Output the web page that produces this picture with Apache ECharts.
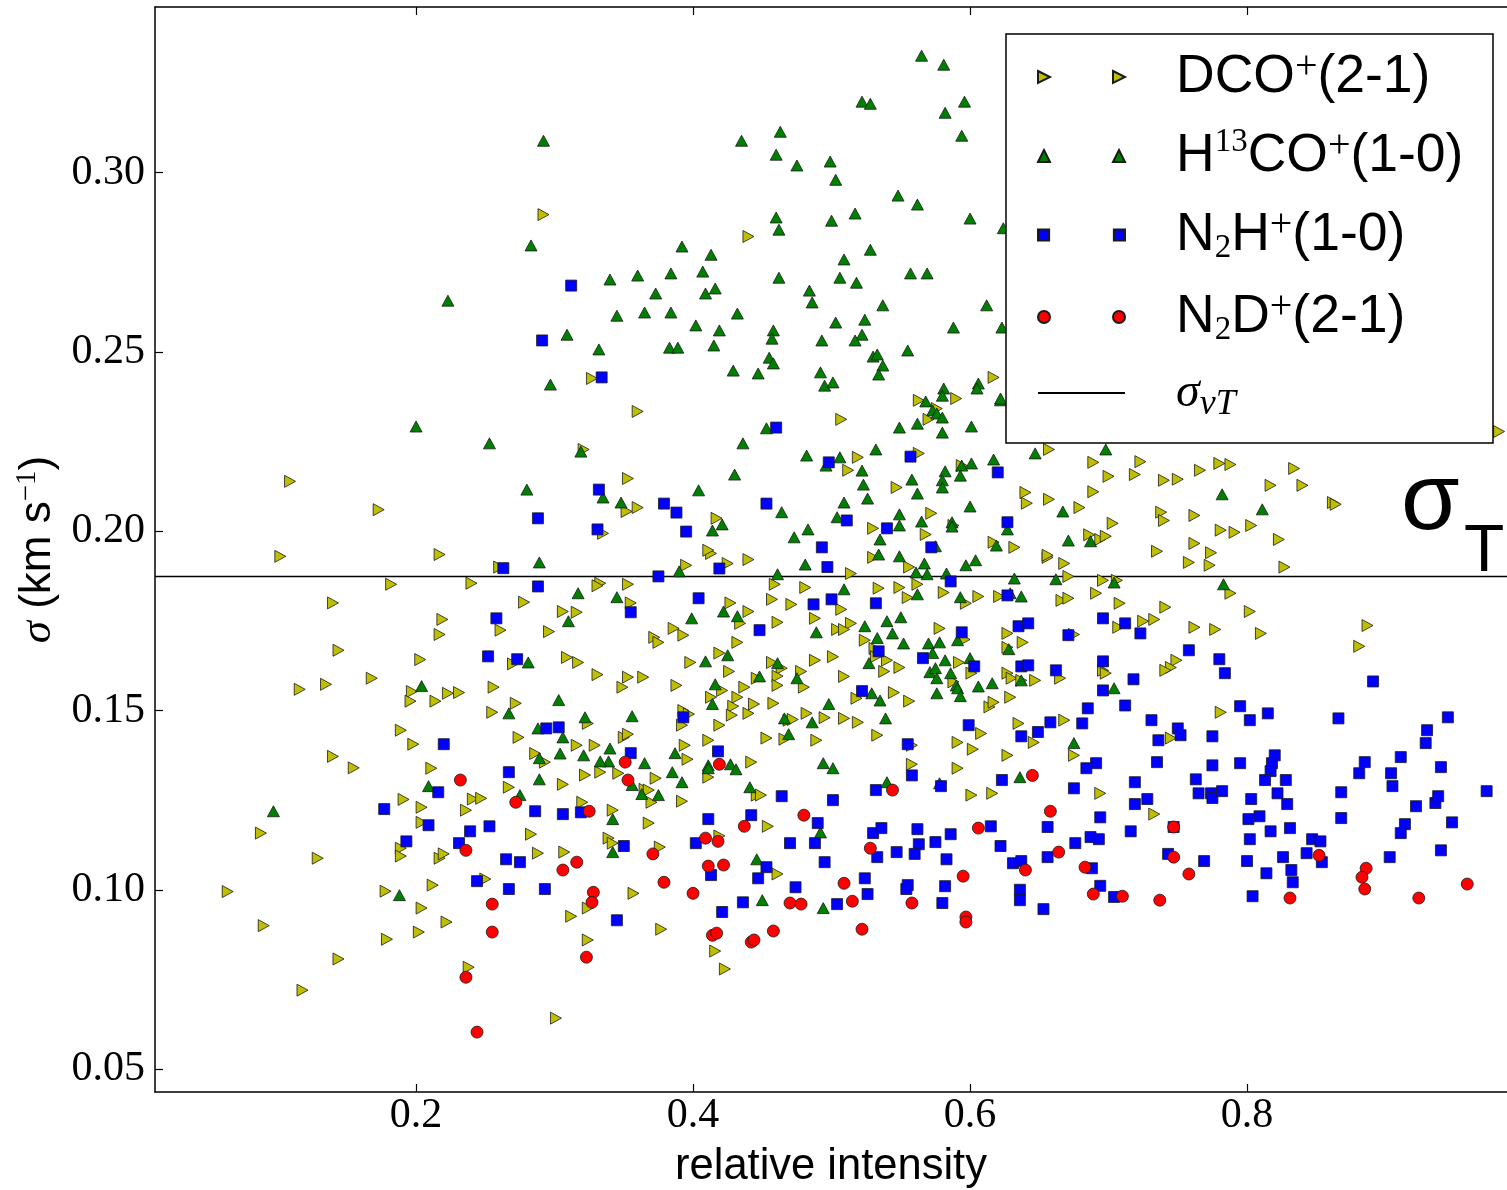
<!DOCTYPE html>
<html><head><meta charset="utf-8">
<script src="https://cdn.jsdelivr.net/npm/echarts/dist/echarts.min.js"></script>
<style>html,body{margin:0;padding:0;background:#fff}#c{width:1507px;height:1190px}</style>
</head><body><div id="c"></div>
<script>
const seriesNames = ['DCO+(2-1)', 'H13CO+(1-0)', 'N2H+(1-0)', 'N2D+(2-1)', 'sigma_vT'];

const dcoData = [
[0.064,0.0995],[0.090,0.090],[0.118,0.072],[0.088,0.1158],[0.129,0.1088],[0.140,0.1372],[0.155,0.134],[0.144,0.0807],[0.179,0.0862],[0.178,0.0996],[0.191,0.1252],[0.189,0.1116],[0.189,0.1094],[0.198,0.1406],[0.189,0.1445],[0.204,0.123],[0.204,0.1188],[0.204,0.0949],[0.202,0.0882],[0.211,0.1339],[0.212,0.1013],[0.222,0.091],[0.217,0.1088],[0.220,0.110],[0.236,0.1222],[0.241,0.1253],[0.247,0.1255],[0.238,0.0784],[0.250,0.103],[0.267,0.1286],[0.274,0.1425],[0.283,0.1155],[0.286,0.138],[0.293,0.1356],[0.288,0.1102],[0.306,0.1294],[0.307,0.1105],[0.312,0.0926],[0.316,0.1403],[0.329,0.1403],[0.322,0.132],[0.333,0.1328],[0.320,0.1244],[0.324,0.0949],[0.324,0.086],[0.301,0.0642],
[0.109,0.2139],[0.173,0.206],[0.102,0.193],[0.217,0.1935],[0.260,0.190],[0.182,0.1852],[0.240,0.1855],[0.140,0.180],[0.219,0.1754],[0.217,0.1712],[0.144,0.1668],[0.203,0.1642],[0.168,0.159],[0.116,0.1559],[0.135,0.1573],[0.197,0.1553],[0.196,0.1526],[0.214,0.1526],[0.223,0.1548],[0.231,0.155],[0.278,0.1802],[0.261,0.1724],[0.296,0.172],[0.306,0.1776],[0.316,0.1774],[0.333,0.1855],[0.331,0.1848],[0.270,0.163],[0.309,0.1648],[0.317,0.1634],[0.331,0.160],[0.256,0.1565],[0.255,0.1495],[0.272,0.152],[0.324,0.1464],
[0.292,0.2883],[0.360,0.2334],[0.327,0.2426],[0.321,0.2228],[0.335,0.1994],[0.440,0.2822],
[0.413,0.1938],[0.440,0.1921],[0.395,0.1905],[0.425,0.191],[0.353,0.1852],[0.355,0.180],[0.427,0.180],[0.440,0.1776],[0.434,0.1743],[0.386,0.1729],[0.393,0.171],[0.372,0.1704],[0.375,0.169],[0.432,0.169],[0.459,0.1852],[0.457,0.181],[0.461,0.1746],[0.471,0.1796],[0.481,0.1843],[0.488,0.1757],[0.507,0.1782],[0.514,0.1743],[0.504,0.1726],[0.509,0.1726],[0.514,0.1882],[0.530,0.1927],[0.534,0.1841],[0.549,0.1843],[0.555,0.1815],[0.562,0.1852],[0.556,0.190],[0.581,0.1829],[0.606,0.1818],[0.597,0.1799],[0.621,0.1818],[0.578,0.1729],[0.596,0.1698],[0.627,0.1715],[0.638,0.169],[0.627,0.1676],[0.656,0.1927],[0.524,0.1696],[0.531,0.1673],[0.532,0.165],[0.540,0.164],[0.549,0.162],[0.538,0.1609],[0.509,0.1595],[0.501,0.165],[0.488,0.164],[0.426,0.1609],[0.419,0.166],[0.398,0.1634],[0.457,0.1634],[0.464,0.1618],[0.478,0.1609],[0.461,0.1596],[0.446,0.159],[0.461,0.157],[0.480,0.1565],[0.437,0.1565],[0.421,0.1556],[0.432,0.1537],[0.413,0.1537],[0.429,0.1512],[0.444,0.1518],[0.440,0.1492],[0.458,0.152],[0.428,0.1487],[0.419,0.1459],[0.388,0.157],[0.353,0.1593],[0.364,0.1593],[0.349,0.1565],[0.393,0.150],[0.397,0.149],[0.392,0.1459],[0.482,0.1492],[0.495,0.148],[0.469,0.1473],[0.472,0.1475],[0.509,0.1478],[0.519,0.1467],[0.518,0.1534],[0.545,0.155],[0.556,0.1526],[0.592,0.1634],[0.601,0.1604],[0.588,0.158],[0.627,0.1604],[0.630,0.159],[0.637,0.1584],[0.647,0.1584],[0.629,0.1537],[0.614,0.151],[0.617,0.1523],[0.635,0.1464],
[0.507,0.2312],[0.519,0.2206],[0.512,0.217],[0.563,0.2217],[0.547,0.2122],[0.617,0.2429],[0.590,0.237],[0.563,0.2365],[0.570,0.2312],[0.576,0.2342],[0.594,0.2183],[0.640,0.2108],[0.641,0.2078],[0.657,0.2089],[0.657,0.2228],[0.572,0.205],[0.568,0.1991],[0.530,0.2008],[0.588,0.2016],[0.617,0.1969],[0.632,0.1955],[0.353,0.2147],[0.360,0.2066],[0.352,0.2055],[0.417,0.2036],[0.411,0.1947],
[0.982,0.2278],[0.689,0.2192],[0.723,0.2194],[0.700,0.2153],[0.719,0.2158],[0.740,0.2142],[0.750,0.2145],[0.766,0.217],[0.780,0.2189],[0.788,0.2186],[0.834,0.2175],[0.817,0.2128],[0.840,0.2128],[0.862,0.208],[0.864,0.2075],[0.679,0.2066],[0.689,0.211],[0.738,0.2053],[0.740,0.203],[0.762,0.2044],[0.703,0.2022],[0.781,0.2003],[0.791,0.1997],[0.803,0.2016],[0.823,0.1977],[0.686,0.199],[0.694,0.1977],[0.698,0.1986],[0.735,0.1944],[0.762,0.1966],[0.774,0.194],[0.656,0.1933],[0.668,0.191],[0.758,0.1913],[0.773,0.1905],[0.827,0.190],
[0.671,0.1874],[0.696,0.1863],[0.706,0.1863],[0.788,0.1827],[0.691,0.1827],[0.666,0.1807],[0.671,0.1813],[0.708,0.1799],[0.741,0.1788],[0.802,0.1776],[0.725,0.1749],[0.733,0.1754],[0.707,0.1732],[0.762,0.1732],[0.777,0.1726],[0.810,0.1715],[0.887,0.1737],[0.881,0.1679],[0.675,0.1712],[0.749,0.164],[0.745,0.162],[0.741,0.1612],[0.696,0.1612],[0.698,0.1604],[0.665,0.159],[0.781,0.1495],[0.668,0.1473],
[0.745,0.1423],[0.675,0.1375],[0.694,0.1269],[0.733,0.1211],
[0.350,0.1425],[0.353,0.1434],[0.394,0.1403],[0.396,0.1364],[0.411,0.1417],[0.411,0.1314],[0.453,0.1423],[0.466,0.142],[0.489,0.1417],[0.533,0.1431],[0.442,0.1356],[0.558,0.1403],[0.558,0.135],[0.591,0.1411],[0.602,0.1392],[0.608,0.1436],[0.591,0.1339],[0.627,0.1375],[0.646,0.1411],[0.601,0.1264],[0.616,0.1269],[0.346,0.1325],[0.373,0.1311],[0.365,0.128],[0.368,0.1278],[0.370,0.1244],[0.392,0.1247],[0.342,0.1222],[0.368,0.1186],[0.339,0.1144],[0.342,0.113],[0.376,0.1119],[0.446,0.1264],[0.449,0.1264],[0.454,0.1177],[0.419,0.115],[0.461,0.1044],[0.357,0.099],[0.377,0.089],[0.416,0.0829],[0.423,0.0779]
];

const h13coData = [
[0.292,0.3089],[0.283,0.2797],[0.223,0.2643],[0.309,0.2548],[0.332,0.2507],
[0.297,0.2409],[0.200,0.2292],[0.253,0.2245],[0.319,0.2222],[0.280,0.2116],[0.335,0.2094],
[0.565,0.3326],[0.581,0.3301],[0.522,0.3198],[0.528,0.3192],[0.582,0.3167],[0.596,0.3198],[0.594,0.3103],[0.435,0.3089],[0.463,0.3114],[0.460,0.305],[0.475,0.302],[0.499,0.3031],[0.503,0.298],[0.548,0.2936],[0.562,0.2911],[0.600,0.2872],[0.460,0.2875],[0.462,0.2841],[0.500,0.2866],[0.517,0.2886],[0.392,0.2794],[0.413,0.2771],[0.528,0.2785],[0.509,0.2758],[0.340,0.2702],[0.360,0.2713],[0.384,0.2719],[0.407,0.2724],[0.373,0.2663],[0.416,0.2677],[0.409,0.2663],[0.462,0.2707],[0.506,0.2707],[0.518,0.2693],[0.557,0.2719],[0.569,0.2719],[0.624,0.2845],[0.345,0.2601],[0.365,0.261],[0.384,0.261],[0.432,0.2607],[0.402,0.2574],[0.419,0.256],[0.484,0.2671],[0.486,0.2638],[0.537,0.263],[0.612,0.263],[0.503,0.2582],[0.524,0.259],[0.458,0.256],[0.457,0.2537],[0.522,0.2548],[0.588,0.2568],[0.383,0.2512],[0.389,0.2512],[0.415,0.2518],[0.493,0.2532],[0.517,0.2532],[0.555,0.2504],[0.455,0.2484],[0.458,0.2468],[0.530,0.2487],[0.533,0.2493],[0.537,0.2462],[0.623,0.2568],[0.622,0.2365],
[0.429,0.2448],[0.447,0.244],[0.492,0.2443],[0.534,0.2437],[0.495,0.2406],[0.501,0.2415],[0.581,0.2398],[0.580,0.2378],[0.606,0.2412],[0.605,0.2398],[0.568,0.2362],[0.573,0.2337],[0.576,0.2328],[0.580,0.2317],[0.622,0.237],[0.453,0.2287],[0.549,0.2289],[0.562,0.230],[0.580,0.2275],[0.601,0.2292],[0.436,0.2245],[0.482,0.2211],[0.506,0.2206],[0.496,0.2183],[0.532,0.2228],[0.522,0.2169],[0.523,0.213],[0.526,0.2091],[0.509,0.208],[0.617,0.220],[0.647,0.2217],[0.594,0.2183],[0.601,0.2189],[0.558,0.2144],[0.562,0.2105],[0.582,0.2167],[0.580,0.2142],[0.580,0.2122],[0.593,0.2155],[0.600,0.2069],[0.430,0.2158],[0.404,0.2114],[0.348,0.208],[0.421,0.2019],[0.414,0.2002],[0.464,0.2053],[0.483,0.2005],[0.473,0.1983],[0.504,0.2039],[0.549,0.2047],[0.549,0.2016],[0.565,0.2027],[0.587,0.2025],[0.587,0.2013],[0.535,0.1977],[0.575,0.1958],[0.619,0.196],[0.627,0.2005],
[0.698,0.2228],[0.782,0.2103],[0.667,0.2055],[0.811,0.2061],[0.671,0.1974],[0.687,0.1972],
[0.662,0.1866],[0.704,0.1857],[0.783,0.1852],[0.704,0.1562],[0.675,0.1409],
[0.289,0.1913],[0.317,0.1827],[0.310,0.1749],[0.281,0.1634],[0.204,0.1568],[0.303,0.1529],[0.267,0.1492],[0.322,0.1481],[0.288,0.145],
[0.390,0.1888],[0.461,0.188],[0.481,0.1907],[0.534,0.1935],[0.549,0.193],[0.567,0.191],[0.561,0.1885],[0.569,0.188],[0.583,0.1882],[0.597,0.1905],[0.604,0.1919],[0.632,0.1868],[0.345,0.1816],[0.509,0.1838],[0.562,0.1824],[0.593,0.1816],[0.629,0.1827],[0.637,0.1818],[0.399,0.1757],[0.422,0.1776],[0.432,0.1763],[0.540,0.1749],[0.550,0.176],[0.489,0.1718],[0.524,0.1735],[0.533,0.1702],[0.544,0.1715],[0.552,0.1687],[0.570,0.1687],[0.578,0.169],[0.591,0.1696],[0.628,0.1671],[0.573,0.166],[0.582,0.164],[0.600,0.1646],[0.409,0.1637],[0.425,0.1654],[0.461,0.1632],[0.527,0.1632],[0.571,0.1607],[0.575,0.1618],[0.576,0.159],[0.586,0.1604],[0.448,0.1595],[0.475,0.159],[0.416,0.1573],[0.590,0.157],[0.591,0.1562],[0.593,0.154],[0.606,0.1567],[0.616,0.1576],[0.637,0.1584],[0.576,0.1548],[0.414,0.1518],[0.529,0.1548],[0.535,0.1528],[0.498,0.1518],[0.356,0.1484],[0.466,0.1478],[0.486,0.1467],[0.539,0.1478],
[0.340,0.1394],[0.339,0.1358],[0.365,0.1353],[0.387,0.1381],[0.385,0.1328],[0.392,0.130],[0.356,0.1292],[0.363,0.1267],[0.375,0.1264],[0.342,0.1197],[0.342,0.1105],[0.411,0.1347],[0.411,0.1339],[0.427,0.135],[0.431,0.1336],[0.469,0.1434],[0.441,0.1286],[0.494,0.1353],[0.501,0.1339],[0.492,0.116],[0.446,0.1085],[0.540,0.130],[0.578,0.1297],[0.636,0.1314],[0.450,0.0971],[0.494,0.0949],
[0.306,0.1425],[0.304,0.138],[0.321,0.1375],[0.333,0.1358],[0.289,0.1367],[0.289,0.1308],[0.275,0.1264],[0.209,0.1289],[0.097,0.1219],[0.188,0.0985]
];

const n2hData = [
[0.312,0.2685],[0.291,0.2532],[0.334,0.2429],[0.288,0.2036],[0.332,0.2116],[0.331,0.2005],
[0.263,0.1897],[0.288,0.1846],[0.258,0.1757],[0.252,0.1651],[0.273,0.1643],[0.294,0.145],[0.303,0.1453],
[0.460,0.2289],[0.498,0.2192],[0.557,0.2208],[0.620,0.2164],[0.379,0.2077],[0.388,0.2052],[0.395,0.1999],[0.453,0.2077],[0.511,0.203],[0.540,0.2008],[0.627,0.2025],[0.493,0.1955],[0.572,0.1955],
[0.375,0.1874],[0.419,0.1896],[0.497,0.190],[0.586,0.186],[0.404,0.1813],[0.487,0.1796],[0.500,0.181],[0.532,0.1799],[0.627,0.1821],[0.355,0.1774],[0.448,0.1724],[0.594,0.1718],[0.635,0.1735],[0.642,0.1743],[0.534,0.1665],[0.566,0.1646],[0.603,0.1623],[0.637,0.1623],[0.642,0.1626],[0.522,0.1554],[0.393,0.1481],[0.599,0.1459],
[0.696,0.1757],[0.712,0.1743],[0.723,0.1715],[0.671,0.171],[0.758,0.1668],[0.696,0.1637],[0.780,0.1643],[0.784,0.1604],[0.662,0.1612],[0.718,0.1587],[0.891,0.1581],[0.696,0.1556],[0.685,0.1506],[0.712,0.1514],[0.795,0.1512],[0.815,0.1492],[0.731,0.1473],[0.802,0.1473],[0.866,0.1478],[0.945,0.1481],[0.681,0.1464],[0.750,0.145],[0.930,0.1445],[0.658,0.1467],
[0.736,0.1417],[0.752,0.1431],[0.775,0.1428],[0.929,0.1409],[0.691,0.1353],[0.684,0.1339],[0.735,0.1356],[0.775,0.1347],[0.795,0.1353],[0.820,0.1375],[0.818,0.1353],[0.817,0.1331],[0.813,0.1306],[0.828,0.1306],[0.885,0.1356],[0.881,0.1325],[0.911,0.137],[0.940,0.1342],[0.904,0.1325],[0.905,0.1289],[0.675,0.1283],[0.719,0.130],[0.763,0.1308],[0.765,0.1269],[0.774,0.1269],[0.775,0.1256],[0.782,0.1275],[0.803,0.1253],[0.822,0.1269],[0.829,0.1239],[0.868,0.1272],[0.973,0.1275],[0.719,0.1239],[0.728,0.1253],[0.694,0.1202],[0.801,0.1197],[0.809,0.1205],[0.922,0.1233],[0.936,0.1242],[0.938,0.1261],[0.868,0.120],[0.948,0.1188],[0.747,0.1175],[0.716,0.1163],[0.802,0.1141],[0.817,0.1163],[0.831,0.1172],[0.847,0.1141],[0.853,0.1135],[0.914,0.1183],[0.911,0.1158],[0.687,0.1147],[0.693,0.1141],[0.676,0.113],[0.743,0.110],[0.769,0.108],[0.800,0.108],[0.826,0.1091],[0.843,0.1102],[0.854,0.1077],[0.903,0.1091],[0.940,0.111],[0.688,0.106],[0.814,0.1046],[0.832,0.1055],[0.833,0.1021],[0.694,0.1011],[0.704,0.098],[0.804,0.0982],
[0.355,0.1381],[0.418,0.1386],[0.555,0.1406],[0.637,0.1428],[0.649,0.144],[0.558,0.1319],[0.579,0.1289],[0.532,0.1278],[0.623,0.1306],[0.464,0.1261],[0.501,0.125],[0.411,0.1197],[0.442,0.1208],[0.490,0.1186],[0.615,0.1177],[0.656,0.1175],[0.530,0.1158],[0.536,0.1172],[0.562,0.1169],[0.350,0.1122],[0.402,0.113],[0.470,0.113],[0.488,0.113],[0.563,0.1127],[0.575,0.1133],[0.586,0.1155],[0.622,0.1122],[0.547,0.1105],[0.560,0.110],[0.533,0.1091],[0.583,0.1085],[0.656,0.1091],[0.631,0.1074],[0.637,0.108],[0.495,0.1077],[0.453,0.1063],[0.413,0.1041],[0.447,0.1032],[0.524,0.1032],[0.474,0.1007],[0.555,0.1013],[0.554,0.1002],[0.582,0.101],[0.636,0.100],[0.636,0.0971],[0.526,0.0988],[0.436,0.0965],[0.504,0.096],[0.580,0.0963],[0.653,0.0946],[0.421,0.0938],[0.345,0.0915],
[0.220,0.1406],[0.267,0.1328],[0.216,0.1272],[0.177,0.1225],[0.209,0.118],[0.286,0.1219],[0.306,0.1211],[0.319,0.1216],[0.253,0.1177],[0.239,0.1163],[0.193,0.1135],[0.231,0.113],[0.265,0.1085],[0.275,0.1077],[0.244,0.1024],[0.267,0.1002],[0.293,0.1002]
];

const n2dData = [
[0.232,0.1306],[0.272,0.1244],[0.325,0.1219],[0.236,0.111],[0.316,0.1077],[0.306,0.1055],[0.328,0.0993],[0.327,0.0965],[0.255,0.096],[0.255,0.0882],[0.323,0.0812],[0.236,0.0756],[0.244,0.0603],
[0.351,0.1356],[0.353,0.1306],[0.419,0.135],[0.371,0.110],[0.379,0.1021],[0.400,0.099],[0.409,0.1144],[0.418,0.1135],[0.437,0.1177],[0.480,0.1208],[0.411,0.1066],[0.422,0.1069],[0.414,0.0873],[0.417,0.0879],[0.442,0.0854],[0.444,0.086],[0.458,0.0885],[0.470,0.0963],[0.478,0.096],[0.509,0.1018],[0.515,0.0968],[0.522,0.089],[0.528,0.1116],[0.544,0.1278],[0.558,0.0963],[0.595,0.1038],[0.597,0.0924],[0.597,0.091],[0.606,0.1172],[0.645,0.1319],[0.640,0.1055],[0.658,0.1219],
[0.664,0.1105],[0.683,0.1063],[0.689,0.0988],[0.710,0.0982],[0.737,0.0971],[0.747,0.1175],[0.747,0.1091],[0.758,0.1044],[0.831,0.0977],[0.852,0.1096],[0.886,0.106],[0.883,0.1035],[0.885,0.1002],[0.924,0.0977],[0.959,0.1016]
];

const sigmaVT = 0.1874;
const xTicks = [0.2, 0.4, 0.6, 0.8];
const yTicks = [0.05, 0.10, 0.15, 0.20, 0.25, 0.30];
const xRange = [0.0115, 0.9877];
const yRange = [0.0436, 0.3462];

const chart = echarts.init(document.getElementById('c'), null, {renderer: 'canvas'});

const TRI_RIGHT = 'path://M0,0L10,5L0,10Z';
const TRI_UP = 'path://M5,0L10,10L0,10Z';
const LEG_RIGHT = 'path://M0,0L12,6L0,12Z M75,0L87,6L75,12Z';
const LEG_UP = 'path://M0,12L6,0L12,12Z M75,12L81,0L87,12Z';
const LEG_SQ = 'path://M0.5,0.5L11.5,0.5L11.5,11.5L0.5,11.5Z M75.5,0.5L86.5,0.5L86.5,11.5L75.5,11.5Z';
const LEG_CIR = 'path://M0,6A6,6 0 1 1 12,6A6,6 0 1 1 0,6Z M75,6A6,6 0 1 1 87,6A6,6 0 1 1 75,6Z';

const legendText = {};
legendText[seriesNames[0]] = '{g| }{n|DCO}{sp|+}{n|(2-1)}';
legendText[seriesNames[1]] = '{g| }{n|H}{sd|13}{n|CO}{sp|+}{n|(1-0)}';
legendText[seriesNames[2]] = '{g| }{n|N}{sb|2}{n|H}{sp|+}{n|(1-0)}';
legendText[seriesNames[3]] = '{g| }{n|N}{sb|2}{n|D}{sp|+}{n|(2-1)}';
legendText[seriesNames[4]] = '{g| }{gi|σ}{gs|vT}';

const edge = {borderColor: '#1a1a1a', borderWidth: 0.8};

function axisCommon(ticks) {
  return {
    type: 'value', scale: true,
    splitLine: {show: false},
    axisLine: {show: true, onZero: false, lineStyle: {color: '#000', width: 1.5}},
    axisTick: {show: true, inside: true, length: 8, customValues: ticks, lineStyle: {color: '#000', width: 1.2}},
  };
}

const option = {
  animation: false,
  backgroundColor: '#fff',
  grid: {left: 155, top: 7, right: 0, bottom: 98, containLabel: false, outerBoundsMode: 'none'},
  xAxis: [
    Object.assign(axisCommon(xTicks), {
      min: xRange[0], max: xRange[1], position: 'bottom',
      axisLabel: {customValues: xTicks, formatter: v => v.toFixed(1), fontFamily: 'Liberation Serif', fontSize: 42, color: '#000', margin: 3},
      name: 'relative intensity', nameLocation: 'middle', nameGap: 53,
      nameTextStyle: {fontFamily: 'Liberation Sans', fontSize: 43.5, color: '#000'}
    }),
    Object.assign(axisCommon(xTicks), {
      min: xRange[0], max: xRange[1], position: 'top', axisLabel: {show: false}
    })
  ],
  yAxis: [
    Object.assign(axisCommon(yTicks), {
      min: yRange[0], max: yRange[1], position: 'left',
      axisLabel: {customValues: yTicks, formatter: v => v.toFixed(2), fontFamily: 'Liberation Serif', fontSize: 42, color: '#000', margin: 10},
      name: '{i|σ}{n| (km s}{s|−1}{n|)}', nameLocation: 'middle', nameGap: 90,
      nameTextStyle: {
        color: '#000',
        rich: {
          i: {fontFamily: 'Liberation Serif', fontStyle: 'italic', fontSize: 45, lineHeight: 50, color: '#000'},
          n: {fontFamily: 'Liberation Sans', fontSize: 44, lineHeight: 50, color: '#000'},
          s: {fontFamily: 'Liberation Serif', fontSize: 29, lineHeight: 30, verticalAlign: 'top', color: '#000'}
        }
      }
    })
  ],
  legend: {
    orient: 'vertical', left: 1037, top: 47, padding: 0,
    itemWidth: 87, itemHeight: 12, itemGap: 22,
    backgroundColor: 'transparent', selectedMode: false,
    data: [
      {name: seriesNames[0], icon: LEG_RIGHT},
      {name: seriesNames[1], icon: LEG_UP},
      {name: seriesNames[2], icon: LEG_SQ},
      {name: seriesNames[3], icon: LEG_CIR},
      {name: seriesNames[4], itemStyle: {color: 'rgba(0,0,0,0)', borderColor: 'rgba(0,0,0,0)', borderWidth: 0, opacity: 0}}
    ],
    formatter: name => legendText[name],
    textStyle: {
      color: '#000',
      rich: {
        g: {width: 46, fontSize: 10},
        n: {fontFamily: 'Liberation Sans', fontSize: 53.5, lineHeight: 60, color: '#000'},
        sp: {fontFamily: 'Liberation Serif', fontSize: 40, lineHeight: 44, verticalAlign: 'top', color: '#000'},
        sd: {fontFamily: 'Liberation Serif', fontSize: 33, lineHeight: 40, verticalAlign: 'top', color: '#000'},
        sb: {fontFamily: 'Liberation Serif', fontSize: 33, lineHeight: 30, verticalAlign: 'bottom', color: '#000'},
        gi: {fontFamily: 'Liberation Serif', fontStyle: 'italic', fontSize: 48, lineHeight: 60, color: '#000'},
        gs: {fontFamily: 'Liberation Serif', fontStyle: 'italic', fontSize: 36, lineHeight: 46, verticalAlign: 'bottom', color: '#000'}
      }
    },
    z: 5
  },
  graphic: [
    {type: 'rect', z: 3, silent: true, shape: {x: 1006, y: 34, width: 487, height: 409},
     style: {fill: '#fff', stroke: '#000', lineWidth: 1.5}},
    {type: 'text', z: 5, x: 1401, y: 503, silent: true,
     style: {text: 'σ', fontFamily: 'Liberation Sans', fontSize: 95, fill: '#000', verticalAlign: 'middle', textVerticalAlign: 'middle'}},
    {type: 'text', z: 5, x: 1464, y: 553, silent: true,
     style: {text: 'T', fontFamily: 'Liberation Sans', fontSize: 66, fill: '#000', verticalAlign: 'middle', textVerticalAlign: 'middle'}}
  ],
  series: [
    {name: seriesNames[4], type: 'line', data: [[xRange[0], sigmaVT], [xRange[1], sigmaVT]],
     symbol: 'none', silent: true, lineStyle: {color: '#000', width: 1.5}, itemStyle: {color: '#000'}, z: 1},
    {name: seriesNames[0], type: 'scatter', data: dcoData, symbol: TRI_RIGHT, symbolSize: [11, 12],
     itemStyle: Object.assign({color: '#bfbf00', opacity: 1}, edge)},
    {name: seriesNames[1], type: 'scatter', data: h13coData, symbol: TRI_UP, symbolSize: [12, 11],
     itemStyle: Object.assign({color: '#008000', opacity: 1}, edge)},
    {name: seriesNames[2], type: 'scatter', data: n2hData, symbol: 'rect', symbolSize: 11,
     itemStyle: Object.assign({color: '#0000ff', opacity: 1}, edge)},
    {name: seriesNames[3], type: 'scatter', data: n2dData, symbol: 'circle', symbolSize: 12,
     itemStyle: Object.assign({color: '#ff0000', opacity: 1}, edge)}
  ]
};
chart.setOption(option);
</script>
</body></html>
